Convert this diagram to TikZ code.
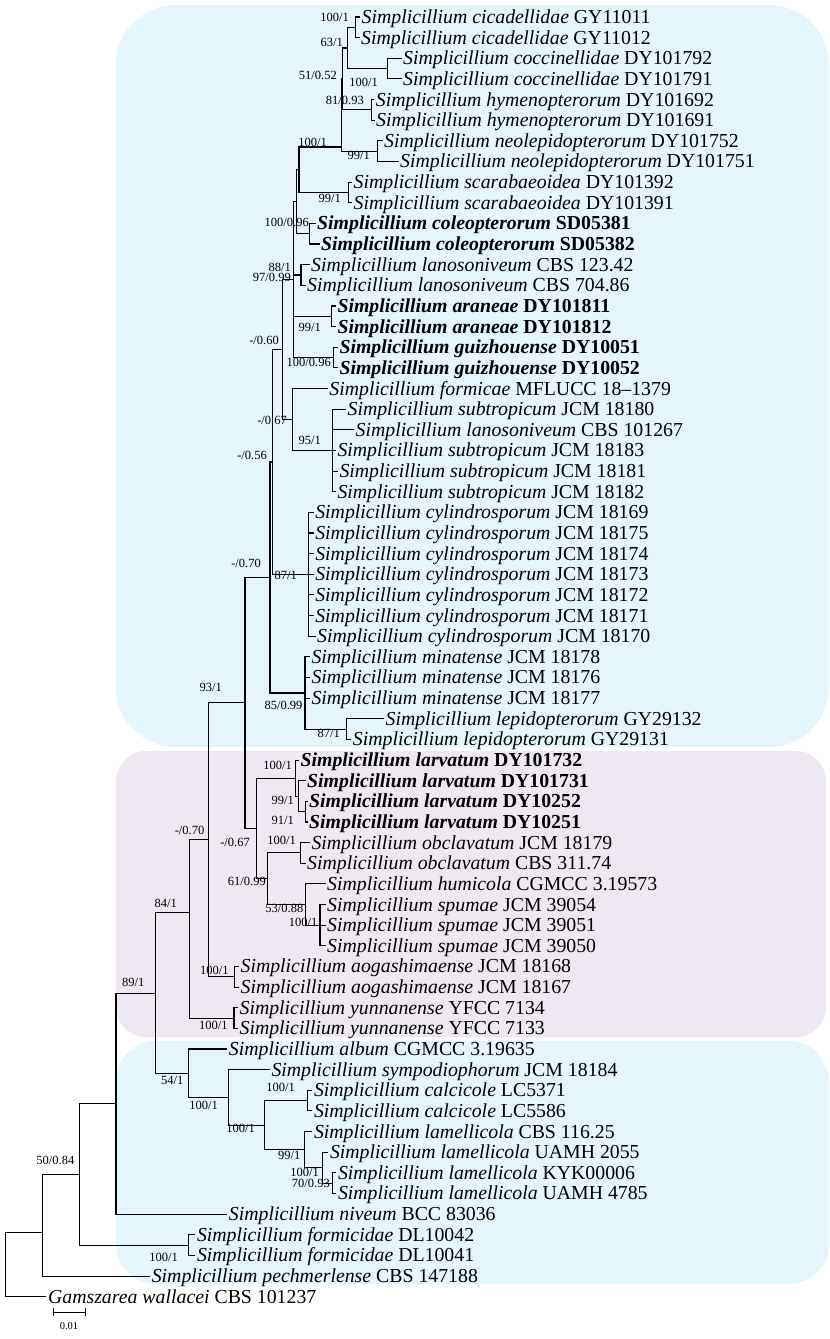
\documentclass[tikz,border=0pt]{standalone}
\usepackage{fontspec}
\setmainfont{Liberation Serif}
\newcommand\stx[2]{\textit{Simplicillium #1} #2}
\begin{document}
\begin{tikzpicture}[x=1pt,y=-1pt,
  declare function={row(\i)=17+(\i-1)*20.64;},
  br/.style={line width=1.1pt, black},
  tip/.style={anchor=west, inner xsep=1.5pt, inner ysep=0pt, text height=15pt, text depth=2pt, font=\fontsize{19.8}{20}\selectfont},
  btip/.style={tip, font=\fontsize{19.8}{20}\selectfont\bfseries},
  supp/.style={anchor=east, inner sep=0pt, font=\fontsize{12.5}{13}\selectfont},
]
\definecolor{blueA}{RGB}{228,245,252}
\definecolor{pinkA}{RGB}{237,232,242}
\useasboundingbox (0,0) rectangle (830,1339);
% clade boxes
\fill[blueA, rounded corners=60pt] (116,5) rectangle (829,747);
\fill[pinkA, rounded corners=30pt] (116,751) rectangle (826,1037);
\fill[blueA, rounded corners=40pt] (116,1041) rectangle (829,1284);

% tips
\node[tip] (t1) at (360,{row(1)}) {\stx{cicadellidae}{GY11011}};
\node[tip] (t2) at (359.5,{row(2)}) {\stx{cicadellidae}{GY11012}};
\node[tip] (t3) at (401.5,{row(3)}) {\stx{coccinellidae}{DY101792}};
\node[tip] (t4) at (401.5,{row(4)}) {\stx{coccinellidae}{DY101791}};
\node[tip] (t5) at (374.2,{row(5)}) {\stx{hymenopterorum}{DY101692}};
\node[tip] (t6) at (374.5,{row(6)}) {\stx{hymenopterorum}{DY101691}};
\node[tip] (t7) at (382.5,{row(7)}) {\stx{neolepidopterorum}{DY101752}};
\node[tip] (t8) at (398.5,{row(8)}) {\stx{neolepidopterorum}{DY101751}};
\node[tip] (t9) at (352,{row(9)}) {\stx{scarabaeoidea}{DY101392}};
\node[tip] (t10) at (352,{row(10)}) {\stx{scarabaeoidea}{DY101391}};
\node[btip] (t11) at (315.5,{row(11)}) {\stx{coleopterorum}{SD05381}};
\node[btip] (t12) at (319.5,{row(12)}) {\stx{coleopterorum}{SD05382}};
\node[tip] (t13) at (309.5,{row(13)}) {\stx{lanosoniveum}{CBS 123.42}};
\node[tip] (t14) at (305.5,{row(14)}) {\stx{lanosoniveum}{CBS 704.86}};
\node[btip] (t15) at (335.8,{row(15)}) {\stx{araneae}{DY101811}};
\node[btip] (t16) at (335.8,{row(16)}) {\stx{araneae}{DY101812}};
\node[btip] (t17) at (337.8,{row(17)}) {\stx{guizhouense}{DY10051}};
\node[btip] (t18) at (337.8,{row(18)}) {\stx{guizhouense}{DY10052}};
\node[tip] (t19) at (327.7,{row(19)}) {\stx{formicae}{MFLUCC 18–1379}};
\node[tip] (t20) at (345.9,{row(20)}) {\stx{subtropicum}{JCM 18180}};
\node[tip] (t21) at (354,{row(21)}) {\stx{lanosoniveum}{CBS 101267}};
\node[tip] (t22) at (335.8,{row(22)}) {\stx{subtropicum}{JCM 18183}};
\node[tip] (t23) at (337.8,{row(23)}) {\stx{subtropicum}{JCM 18181}};
\node[tip] (t24) at (335.8,{row(24)}) {\stx{subtropicum}{JCM 18182}};
\node[tip] (t25) at (313.6,{row(25)}) {\stx{cylindrosporum}{JCM 18169}};
\node[tip] (t26) at (313.6,{row(26)}) {\stx{cylindrosporum}{JCM 18175}};
\node[tip] (t27) at (313.6,{row(27)}) {\stx{cylindrosporum}{JCM 18174}};
\node[tip] (t28) at (313.6,{row(28)}) {\stx{cylindrosporum}{JCM 18173}};
\node[tip] (t29) at (313.6,{row(29)}) {\stx{cylindrosporum}{JCM 18172}};
\node[tip] (t30) at (313.6,{row(30)}) {\stx{cylindrosporum}{JCM 18171}};
\node[tip] (t31) at (315.5,{row(31)}) {\stx{cylindrosporum}{JCM 18170}};
\node[tip] (t32) at (309.8,{row(32)}) {\stx{minatense}{JCM 18178}};
\node[tip] (t33) at (309.8,{row(33)}) {\stx{minatense}{JCM 18176}};
\node[tip] (t34) at (309.8,{row(34)}) {\stx{minatense}{JCM 18177}};
\node[tip] (t35) at (383.9,{row(35)}) {\stx{lepidopterorum}{GY29132}};
\node[tip] (t36) at (351.2,{row(36)}) {\stx{lepidopterorum}{GY29131}};
\node[btip] (t37) at (298.9,{row(37)}) {\stx{larvatum}{DY101732}};
\node[btip] (t38) at (305.5,{row(38)}) {\stx{larvatum}{DY101731}};
\node[btip] (t39) at (307.5,{row(39)}) {\stx{larvatum}{DY10252}};
\node[btip] (t40) at (307.5,{row(40)}) {\stx{larvatum}{DY10251}};
\node[tip] (t41) at (309.8,{row(41)}) {\stx{obclavatum}{JCM 18179}};
\node[tip] (t42) at (305.5,{row(42)}) {\stx{obclavatum}{CBS 311.74}};
\node[tip] (t43) at (325.5,{row(43)}) {\stx{humicola}{CGMCC 3.19573}};
\node[tip] (t44) at (325.5,{row(44)}) {\stx{spumae}{JCM 39054}};
\node[tip] (t45) at (325.5,{row(45)}) {\stx{spumae}{JCM 39051}};
\node[tip] (t46) at (325.5,{row(46)}) {\stx{spumae}{JCM 39050}};
\node[tip] (t47) at (238.9,{row(47)}) {\stx{aogashimaense}{JCM 18168}};
\node[tip] (t48) at (238.9,{row(48)}) {\stx{aogashimaense}{JCM 18167}};
\node[tip] (t49) at (237.9,{row(49)}) {\stx{yunnanense}{YFCC 7134}};
\node[tip] (t50) at (237.9,{row(50)}) {\stx{yunnanense}{YFCC 7133}};
\node[tip] (t51) at (227.2,{row(51)}) {\stx{album}{CGMCC 3.19635}};
\node[tip] (t52) at (269.8,{row(52)}) {\stx{sympodiophorum}{JCM 18184}};
\node[tip] (t53) at (312.3,{row(53)}) {\stx{calcicole}{LC5371}};
\node[tip] (t54) at (312.3,{row(54)}) {\stx{calcicole}{LC5586}};
\node[tip] (t55) at (312.3,{row(55)}) {\stx{lamellicola}{CBS 116.25}};
\node[tip] (t56) at (328.3,{row(56)}) {\stx{lamellicola}{UAMH 2055}};
\node[tip] (t57) at (336.3,{row(57)}) {\stx{lamellicola}{KYK00006}};
\node[tip] (t58) at (336.3,{row(58)}) {\stx{lamellicola}{UAMH 4785}};
\node[tip] (t59) at (227.2,{row(59)}) {\stx{niveum}{BCC 83036}};
\node[tip] (t60) at (195.3,{row(60)}) {\stx{formicidae}{DL10042}};
\node[tip] (t61) at (195.3,{row(61)}) {\stx{formicidae}{DL10041}};
\node[tip] (t62) at (150.1,{row(62)}) {\stx{pechmerlense}{CBS 147188}};
\node[tip] (t63) at (46.4,{row(63)}) {\textit{Gamszarea wallacei} CBS 101237};

% internal nodes
\coordinate (a) at (355.5,{row(1.5)});
\coordinate (cocc) at (387.8,{row(3.5)});
\coordinate (b) at (347.4,{row(2.5)});
\coordinate (hym) at (371.6,{row(5.5)});
\coordinate (c) at (342.5,{row(4)});
\coordinate (neo) at (377.7,{row(7.5)});
\coordinate (d) at (341.4,{row(7.3)});
\coordinate (scar) at (348.6,{row(9.5)});
\coordinate (e) at (299,{row(8.4)});
\coordinate (col) at (309.9,{row(11.5)});
\coordinate (f) at (296.5,{row(9.95)});
\coordinate (lan) at (301,{row(13.5)});
\coordinate (ara) at (331.3,{row(15.5)});
\coordinate (gui) at (333.3,{row(17.5)});
\coordinate (h) at (293.7,{row(13.725)});
\coordinate (sub) at (332.5,{row(22)});
\coordinate (G) at (292.9,{row(20.5)});
\coordinate (i) at (282.8,{row(17.11)});
\coordinate (cyl) at (308.2,{row(28)});
\coordinate (I) at (272.7,{row(22.56)});
\coordinate (lep) at (346.2,{row(35.5)});
\coordinate (L) at (305,{row(33.75)});
\coordinate (J) at (270,{row(28.15)});
\coordinate (R) at (305.6,{row(39.5)});
\coordinate (Q) at (298.2,{row(38.75)});
\coordinate (P) at (295.2,{row(37.875)});
\coordinate (obc) at (300.4,{row(41.5)});
\coordinate (spu) at (320,{row(45)});
\coordinate (T) at (305.9,{row(44)});
\coordinate (S) at (267.7,{row(42.75)});
\coordinate (M) at (256.8,{row(40.31)});
\coordinate (K) at (245,{row(34.22)});
\coordinate (aog) at (234.8,{row(47.5)});
\coordinate (U) at (208.8,{row(40.86)});
\coordinate (yun) at (234,{row(49.5)});
\coordinate (V) at (189.2,{row(44.4)});
\coordinate (calc) at (307.4,{row(53.5)});
\coordinate (EE) at (332.4,{row(57.5)});
\coordinate (DD) at (322.9,{row(56.75)});
\coordinate (CC) at (304.8,{row(55.875)});
\coordinate (BB) at (264.4,{row(54.69)});
\coordinate (AA) at (228.7,{row(53.34)});
\coordinate (Z) at (188.8,{row(52.17)});
\coordinate (X) at (155.2,{row(48.29)});
\coordinate (Y) at (116,{row(53.64)});
\coordinate (form) at (188.8,{row(60.5)});
\coordinate (FF) at (79.8,{row(57.07)});
\coordinate (GG) at (42.6,{row(59.9)});
\coordinate (root) at (5.3,{row(61.45)});

\foreach \p/\q in {a/t1,a/t2,cocc/t3,cocc/t4,b/a,b/cocc,hym/t5,hym/t6,c/b,c/hym,
  neo/t7,neo/t8,d/c,d/neo,scar/t9,scar/t10,e/d,e/scar,col/t11,col/t12,f/e,f/col,
  lan/t13,lan/t14,ara/t15,ara/t16,gui/t17,gui/t18,h/f,h/lan,h/ara,h/gui,
  sub/t20,sub/t21,sub/t22,sub/t23,sub/t24,G/t19,G/sub,i/h,i/G,
  cyl/t25,cyl/t26,cyl/t27,cyl/t28,cyl/t29,cyl/t30,cyl/t31,I/i,I/cyl,
  lep/t35,lep/t36,L/t32,L/t33,L/t34,L/lep,J/I,J/L,
  R/t39,R/t40,Q/t38,Q/R,P/t37,P/Q,obc/t41,obc/t42,spu/t44,spu/t45,spu/t46,
  T/t43,T/spu,S/obc,S/T,M/P,M/S,K/J,K/M,aog/t47,aog/t48,U/K,U/aog,
  yun/t49,yun/t50,V/U,V/yun,calc/t53,calc/t54,EE/t57,EE/t58,DD/t56,DD/EE,
  CC/t55,CC/DD,BB/calc,BB/CC,AA/t52,AA/BB,Z/t51,Z/AA,X/V,X/Z,Y/X,Y/t59,
  form/t60,form/t61,FF/Y,FF/form,GG/FF,GG/t62,root/GG,root/t63}
  \draw[br] (\p) |- (\q);

% support values
\node[supp] (s1) at (349,17) {100/1};
\node[supp] (s2) at (343,42) {63/1};
\node[supp] (s3) at (337,75) {51/0.52};
\node[supp] (s4) at (378,82) {100/1};
\node[supp] (s5) at (364,100) {81/0.93};
\node[supp] (s6) at (327,142) {100/1};
\node[supp] (s7) at (370,155) {99/1};
\node[supp] (s8) at (341,198) {99/1};
\node[supp] (s9) at (309,222) {100/0.96};
\node[supp] (s10) at (291,267) {88/1};
\node[supp] (s11) at (291,277) {97/0.99};
\node[supp] (s12) at (321,327) {99/1};
\node[supp] (s13) at (279,340) {-/0.60};
\node[supp] (s14) at (331,362) {100/0.96};
\node[supp] (s15) at (287,420) {-/0.67};
\node[supp] (s16) at (321,440) {95/1};
\node[supp] (s17) at (267,455) {-/0.56};
\node[supp] (s18) at (261,563) {-/0.70};
\node[supp] (s19) at (297,575) {87/1};
\node[supp] (s20) at (222,687) {93/1};
\node[supp] (s21) at (302.6,705) {85/0.99};
\node[supp] (s22) at (340,733) {87/1};
\node[supp] (s23) at (292,765) {100/1};
\node[supp] (s24) at (294,800) {99/1};
\node[supp] (s25) at (294,820) {91/1};
\node[supp] (s26) at (204.5,830) {-/0.70};
\node[supp] (s27) at (250,842) {-/0.67};
\node[supp] (s28) at (296,840) {100/1};
\node[supp] (s29) at (266,881) {61/0.99};
\node[supp] (s30) at (303.5,908) {53/0.88};
\node[supp] (s31) at (177,903) {84/1};
\node[supp] (s32) at (317.6,922) {100/1};
\node[supp] (s33) at (228.7,970) {100/1};
\node[supp] (s34) at (144.5,982) {89/1};
\node[supp] (s35) at (227.7,1025) {100/1};
\node[supp] (s36) at (183.5,1080) {54/1};
\node[supp] (s37) at (295,1087) {100/1};
\node[supp] (s38) at (218,1105) {100/1};
\node[supp] (s39) at (255,1128) {100/1};
\node[supp] (s40) at (74.5,1160) {50/0.84};
\node[supp] (s41) at (300.5,1155) {99/1};
\node[supp] (s42) at (319,1172) {100/1};
\node[supp] (s43) at (330,1183) {70/0.93};
\node[supp] (s44) at (178,1257.7) {100/1};

% scale bar
\coordinate (sb1) at (53,1312);
\coordinate (sb2) at (85,1312);
\draw[br, line width=0.9pt] (sb1) -- (sb2);
\draw[br, line width=0.9pt] ([yshift=-4pt]sb1) -- ([yshift=4pt]sb1);
\draw[br, line width=0.9pt] ([yshift=-4pt]sb2) -- ([yshift=4pt]sb2);
\node[font=\fontsize{10.5}{11}\selectfont, inner sep=0pt] (sbl) at (69,1326) {0.01};
\end{tikzpicture}
\end{document}
